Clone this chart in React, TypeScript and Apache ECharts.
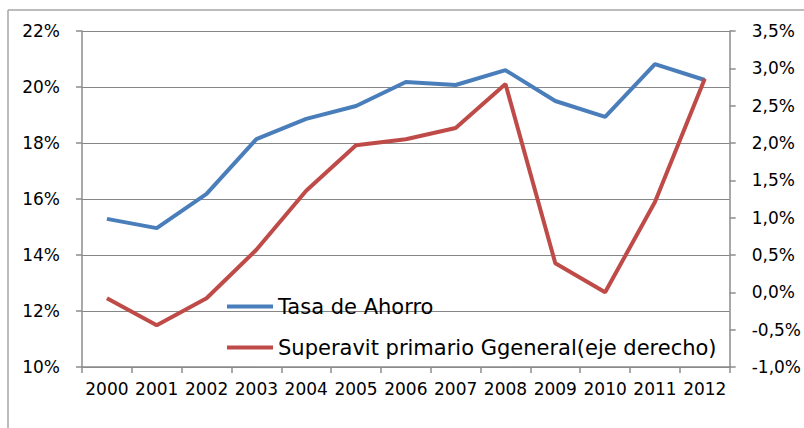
import React, { useEffect, useRef } from "react";
import * as echarts from "echarts";

const years = ["2000","2001","2002","2003","2004","2005","2006","2007","2008","2009","2010","2011","2012"];
const tasaAhorro = [15.29, 14.96, 16.18, 18.14, 18.86, 19.32, 20.18, 20.07, 20.6, 19.5, 18.93, 20.82, 20.25];
const superavit = [-0.08, -0.44, -0.08, 0.57, 1.36, 1.97, 2.05, 2.2, 2.79, 0.39, 0.0, 1.21, 2.86];
const seriesNames = ["Tasa de Ahorro", "Superavit primario Ggeneral(eje derecho)"];

export default function App() {
  const ref = useRef<HTMLDivElement>(null);
  useEffect(() => {
    if (!ref.current) return;
    const chart = echarts.init(ref.current, null, { renderer: "svg" });
    const font = "'DejaVu Sans', sans-serif";
    const axisGray = "#8c8c8c";
    chart.setOption({
      animation: false,
      backgroundColor: "#ffffff",
      textStyle: { fontFamily: font },
      graphic: [
        { type: "line", shape: { x1: 8, y1: 10, x2: 804, y2: 10 }, style: { stroke: "#a6a6a6", lineWidth: 1.5 } },
        { type: "line", shape: { x1: 8, y1: 10, x2: 8, y2: 428 }, style: { stroke: "#a6a6a6", lineWidth: 1.5 } },
      ],
      grid: { left: 82, right: 71, top: 31, bottom: 61, containLabel: false },
      legend: {
        orient: "vertical",
        left: 222,
        top: 291,
        itemGap: 20,
        itemWidth: 46,
        itemHeight: 4,
        icon: "rect",
        textStyle: { fontFamily: font, fontSize: 21, color: "#000" },
        data: seriesNames,
      },
      xAxis: {
        type: "category",
        data: years,
        boundaryGap: true,
        axisLine: { onZero: false, lineStyle: { color: axisGray, width: 1.5 } },
        axisTick: { show: true, length: 6, lineStyle: { color: axisGray, width: 1.5 } },
        axisLabel: { color: "#000", fontSize: 17, margin: 13, fontFamily: font, interval: 0 },
        splitLine: { show: false },
      },
      yAxis: [
        {
          type: "value",
          min: 10,
          max: 22,
          interval: 2,
          position: "left",
          axisLine: { show: true, lineStyle: { color: axisGray, width: 1.5 } },
          axisTick: { show: true, length: 6, lineStyle: { color: axisGray, width: 1.5 } },
          axisLabel: { color: "#000", fontSize: 17, margin: 22, fontFamily: font, formatter: "{value}%" },
          splitLine: { show: true, lineStyle: { color: "#868686", width: 1.2 } },
        },
        {
          type: "value",
          min: -1,
          max: 3.5,
          interval: 0.5,
          position: "right",
          axisLine: { show: true, lineStyle: { color: axisGray, width: 1.5 } },
          axisTick: { show: true, length: 6, lineStyle: { color: axisGray, width: 1.5 } },
          axisLabel: {
            color: "#000",
            fontSize: 17,
            margin: 22,
            fontFamily: font,
            formatter: (v: number) => v.toFixed(1).replace(".", ",") + "%",
          },
          splitLine: { show: false },
        },
      ],
      series: [
        {
          name: seriesNames[0],
          type: "line",
          yAxisIndex: 0,
          data: tasaAhorro,
          symbol: "none",
          lineStyle: { color: "#4a7ebb", width: 4 },
          itemStyle: { color: "#4a7ebb" },
        },
        {
          name: seriesNames[1],
          type: "line",
          yAxisIndex: 1,
          data: superavit,
          symbol: "none",
          lineStyle: { color: "#be4b48", width: 4 },
          itemStyle: { color: "#be4b48" },
        },
      ],
    });
    return () => chart.dispose();
  }, []);
  return <div ref={ref} style={{ position: "absolute", left: 0, top: 0, width: 804, height: 428 }} />;
}
